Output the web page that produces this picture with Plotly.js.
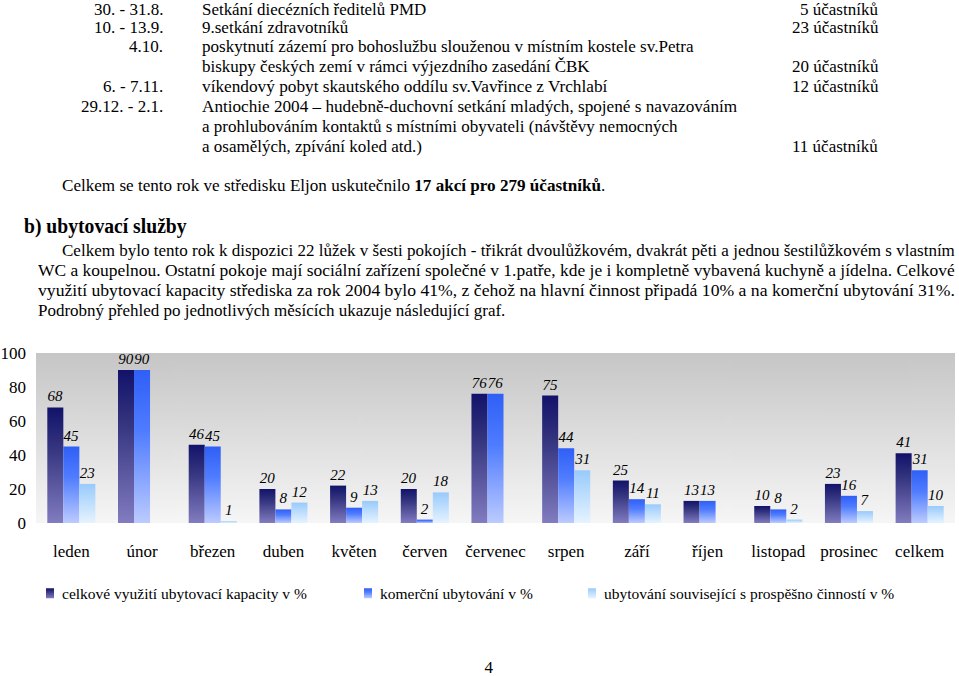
<!DOCTYPE html>
<html><head><meta charset="utf-8">
<script src="https://cdn.plot.ly/plotly-3.0.1.min.js"></script>
<style>
html,body{margin:0;padding:0;background:#fff;width:959px;height:676px;overflow:hidden;}
#page{position:relative;width:959px;height:676px;font-family:"Liberation Serif","Times New Roman",serif;color:#000;}
.ln{position:absolute;white-space:nowrap;font-size:16px;line-height:19px;transform-origin:0 0;}
#chart{position:absolute;left:0;top:0;width:959px;height:676px;}
</style></head>
<body>
<svg width="0" height="0" style="position:absolute">
<defs>
<linearGradient id="g0" x1="0" y1="0" x2="0" y2="1"><stop offset="0" stop-color="#12126a"/><stop offset="0.35" stop-color="#34347f"/><stop offset="1" stop-color="#827cc0"/></linearGradient>
<linearGradient id="g1" x1="0" y1="0" x2="0" y2="1"><stop offset="0" stop-color="#2f5ff6"/><stop offset="0.4" stop-color="#4f7cff"/><stop offset="1" stop-color="#bccbff"/></linearGradient>
<linearGradient id="g2" x1="0" y1="0" x2="0" y2="1"><stop offset="0" stop-color="#98cafc"/><stop offset="1" stop-color="#e6f3ff"/></linearGradient>
</defs></svg>
<div id="page"><div id="chart"></div></div>
<script>
// ---- data ----
var months = ['leden','únor','březen','duben','květen','červen','červenec','srpen','září','říjen','listopad','prosinec','celkem'];
var totalUse = [68,90,46,20,22,20,76,75,25,13,10,23,41];
var commercialUse = [45,90,45,8,9,2,76,44,14,13,8,16,31];
var relatedUse = [23,null,1,12,13,18,null,31,11,null,2,7,10];
var seriesNames = ['celkové využití ubytovací kapacity v %','komerční ubytování v %','ubytování související s prospěšno činností v %'];
var yTicks = [0,20,40,60,80,100];

// ---- document text ----
var textLines = [
  ['30. - 31.8.',163,9.5,'r',null,17],
  ['Setkání diecézních ředitelů PMD',202,9.5,'l',224,17],
  ['5 účastníků',878,9.5,'r',null,17],
  ['10. - 13.9.',163,27,'r',null,17],
  ['9.setkání zdravotníků',202,27,'l',null,17],
  ['23 účastníků',878,27,'r',null,17],
  ['4.10.',163,46,'r',null,17],
  ['poskytnutí zázemí pro bohoslužbu slouženou v místním kostele sv.Petra',202,46,'l',491,17],
  ['biskupy českých zemí v rámci výjezdního zasedání ČBK',202,66,'l',null,17],
  ['20 účastníků',878,66,'r',null,17],
  ['6. - 7.11.',163,86,'r',null,17],
  ['víkendový pobyt skautského oddílu sv.Vavřince z Vrchlabí',202,86,'l',405,17],
  ['12 účastníků',878,86,'r',null,17],
  ['29.12. - 2.1.',163,106,'r',null,17],
  ['Antiochie 2004 – hudebně-duchovní setkání mladých, spojené s navazováním',202,106,'l',535,17],
  ['a prohlubováním kontaktů s místními obyvateli (návštěvy nemocných',202,126,'l',null,17],
  ['a osamělých, zpívání koled atd.)',202,146,'l',null,17],
  ['11 účastníků',878,146,'r',null,17],
  ['Celkem se tento rok ve středisku Eljon uskutečnilo <b>17 akcí pro 279 účastníků</b>.',62,185,'l',543,17],
  ['<b>b) ubytovací služby</b>',24,226,'l',163,20],
  ['Celkem bylo tento rok k dispozici 22 lůžek v šesti pokojích - třikrát dvoulůžkovém, dvakrát pěti a jednou šestilůžkovém s vlastním',62,250,'l',893,17],
  ['WC a koupelnou. Ostatní pokoje mají sociální zařízení společné v 1.patře, kde je i kompletně vybavená kuchyně a jídelna. Celkové',38,270,'l',917,17],
  ['využití ubytovací kapacity střediska za rok 2004 bylo 41%, z čehož na hlavní činnost připadá 10% a na komerční ubytování 31%.',38,290,'l',917,17],
  ['Podrobný přehled po jednotlivých měsících ukazuje následující graf.',38,310,'l',467,17],
  ['4',489,667,'c',null,17]
];
var page = document.getElementById('page');
textLines.forEach(function(t){
  var d = document.createElement('div');
  d.className = 'ln';
  d.style.fontSize = t[5] + 'px';
  if (t[5] > 18) d.style.lineHeight = '22px';
  d.innerHTML = t[0];
  page.appendChild(d);
  var w = d.offsetWidth, h = d.offsetHeight, s = 1;
  if (t[4]) { s = t[4] / w; d.style.transform = 'scaleX(' + s + ')'; }
  var ww = w * s;
  var left = t[3] === 'r' ? t[1] - ww : (t[3] === 'c' ? t[1] - ww / 2 : t[1]);
  d.style.left = left + 'px';
  d.style.top = Math.max(0, t[2] - h / 2) + 'px';
});

// ---- background gradient image for plot area ----
var cv = document.createElement('canvas');
cv.width = 10; cv.height = 200;
var cx = cv.getContext('2d');
var gr = cx.createLinearGradient(0, 0, 0, 200);
gr.addColorStop(0, '#c6c6c6');
gr.addColorStop(1, '#f6f6f6');
cx.fillStyle = gr; cx.fillRect(0, 0, 10, 200);
var bgUrl = cv.toDataURL();

var solid = ['#4a4890', '#6f8fff', '#c4e0fd'];
var seriesValues = [totalUse, commercialUse, relatedUse];
var legendIds = ['legend', 'legend2', 'legend3'];
var traces = seriesValues.map(function(v, i){
  return {
    type: 'bar', x: months, y: v, name: seriesNames[i],
    marker: {color: solid[i], line: {width: 0}},
    text: v.map(function(a){ return a === null ? '' : String(a); }),
    textposition: 'outside', constraintext: 'none', cliponaxis: false,
    textfont: {family: 'Liberation Serif', size: 15, color: '#000', style: 'italic'},
    legend: legendIds[i], hoverinfo: 'none'
  };
});

var L = 36, W = 919;
function px2x(p){ return (p - L) / W; }
var legFont = {family: 'Liberation Serif', size: 15.5, color: '#000'};
var layout = {
  width: 959, height: 676,
  margin: {l: L, r: 4, t: 353, b: 153, pad: 0},
  paper_bgcolor: 'rgba(0,0,0,0)', plot_bgcolor: 'rgba(0,0,0,0)',
  barmode: 'group', bargap: 0.32, bargroupgap: 0,
  font: {family: 'Liberation Serif', color: '#000'},
  showlegend: true,
  images: [{source: bgUrl, xref: 'paper', yref: 'paper', x: 0, y: 1, sizex: 1, sizey: 1, sizing: 'stretch', xanchor: 'left', yanchor: 'top', layer: 'below'}],
  xaxis: {type: 'category', showgrid: false, zeroline: false, showline: false, ticks: '', tickfont: {family: 'Liberation Serif', size: 17, color: '#000'}, ticklabelstandoff: 16, fixedrange: true},
  yaxis: {range: [0, 100], tickvals: yTicks, showgrid: false, zeroline: false, showline: false, ticks: '', tickfont: {family: 'Liberation Serif', size: 17, color: '#000'}, ticklabelstandoff: 9, fixedrange: true},
  legend: {x: px2x(22), y: -0.415, xanchor: 'left', yanchor: 'middle', font: legFont, bgcolor: 'rgba(0,0,0,0)', itemwidth: 30},
  legend2: {x: px2x(340), y: -0.415, xanchor: 'left', yanchor: 'middle', font: legFont, bgcolor: 'rgba(0,0,0,0)', itemwidth: 30},
  legend3: {x: px2x(564), y: -0.415, xanchor: 'left', yanchor: 'middle', font: legFont, bgcolor: 'rgba(0,0,0,0)', itemwidth: 30}
};

Plotly.newPlot('chart', traces, layout, {staticPlot: true, displayModeBar: false}).then(function(gd){
  var groups = gd.querySelectorAll('.barlayer .trace');
  groups.forEach(function(g, i){
    g.querySelectorAll('.point path').forEach(function(p){ p.style.fill = 'url(#g' + (i % 3) + ')'; });
  });
  var lp = gd.querySelectorAll('.legendpoints path');
  lp.forEach(function(p, i){
    p.style.fill = 'url(#g' + (i % 3) + ')';
    p.setAttribute('d', 'M12,5H4V-5H12Z');
  });
});
</script>
</body></html>
